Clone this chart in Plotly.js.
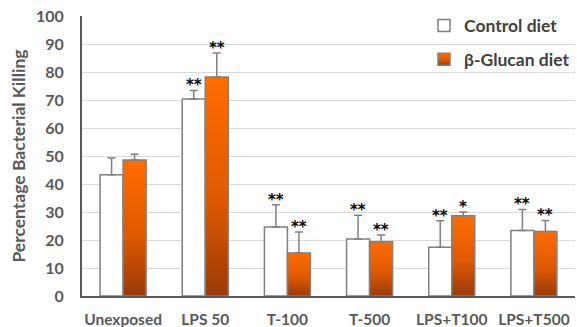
<!DOCTYPE html>
<html><head><meta charset="utf-8">
<script src="https://cdn.plot.ly/plotly-3.0.1.min.js"></script>
<style>body{margin:0;background:#fff}#chart{width:577px;height:327px}</style>
</head><body><div id="chart"></div>
<script>
const categories = ["Unexposed","LPS 50","T-100","T-500","LPS+T100","LPS+T500"];
const controlValues = [43.3, 70.4, 24.6, 20.4, 17.4, 23.4];
const controlErrors = [6.0, 3.0, 8.0, 8.4, 9.5, 7.5];
const glucanValues = [48.6, 78.2, 15.4, 19.4, 28.7, 23.0];
const glucanErrors = [2.0, 8.6, 7.5, 2.4, 1.3, 4.0];
const controlStars = ["", "**", "**", "**", "**", "**"];
const glucanStars = ["", "**", "**", "**", "*", "**"];
const yTicks = [0,10,20,30,40,50,60,70,80,90,100];

const W = 577, H = 327;
const margin = {l: 82, r: 2, t: 16, b: 31};
const bargap = 0.44;
const FONT = "Lato, 'Open Sans', sans-serif";
const STARFONT = "'DejaVu Sans', sans-serif";
const grey = "#595959";

const traces = [
  {type:"bar", name:"Control diet", x:categories, y:controlValues, legendgroup:"a",
   marker:{color:"#ffffff", line:{color:"#808080", width:1.5}},
   error_y:{type:"data", array:controlErrors, arrayminus:controlErrors.map(()=>0), symmetric:false, color:"#808080", thickness:1.5, width:4}},
  {type:"bar", name:"\u03b2-Glucan diet", x:categories, y:glucanValues, legendgroup:"b",
   marker:{color:"#e25f00", line:{color:"#808080", width:1.5}},
   error_y:{type:"data", array:glucanErrors, arrayminus:glucanErrors.map(()=>0), symmetric:false, color:"#808080", thickness:1.5, width:4}}
];

const plotW = W - margin.l - margin.r;
const catW = plotW / categories.length;
const shift = (1 - bargap) * catW / 4;
const annotations = [];
const starFont = {family:STARFONT, size:15, color:"#000", weight:"bold"};
categories.forEach((c, i) => {
  if (controlStars[i]) annotations.push({x:c, y:controlValues[i]+controlErrors[i], text:controlStars[i], showarrow:false, xshift:-shift, yanchor:"bottom", yshift:-6, font:starFont});
  if (glucanStars[i]) annotations.push({x:c, y:glucanValues[i]+glucanErrors[i], text:glucanStars[i], showarrow:false, xshift:shift, yanchor:"bottom", yshift:-6, font:starFont});
});

const layout = {
  width:W, height:H, margin:margin, paper_bgcolor:"#fff", plot_bgcolor:"#fff",
  barmode:"group", bargap:bargap, bargroupgap:0,
  font:{family:FONT, color:grey},
  xaxis:{type:"category", showline:true, linecolor:"#595959", linewidth:2, ticks:"", ticklabelstandoff:8,
    tickfont:{family:FONT, size:15.5, color:grey, weight:"bold"}},
  yaxis:{range:[0,100], tickvals:yTicks, showline:true, linecolor:"#595959", linewidth:2,
    gridcolor:"#d9d9d9", gridwidth:1, zeroline:false, ticks:"", ticklabelstandoff:13,
    tickfont:{family:FONT, size:16, color:grey, weight:"bold"},
    title:{text:"Percentage Bacterial Killing", standoff:6, font:{family:FONT, size:17.5, color:grey, weight:"bold"}}},
  legend:{x:1, xanchor:"right", y:1.03, yanchor:"top", bgcolor:"rgba(0,0,0,0)", traceorder:"grouped", tracegroupgap:8, itemwidth:30,
    font:{family:FONT, size:17.5, color:"#404040", weight:"bold"}},
  annotations:annotations
};

Plotly.newPlot("chart", traces, layout, {displayModeBar:false, staticPlot:true}).then(gd => {
  const svg = gd.querySelector(".main-svg");
  const ns = "http://www.w3.org/2000/svg";
  let defs = svg.querySelector("defs");
  if (!defs) { defs = document.createElementNS(ns, "defs"); svg.insertBefore(defs, svg.firstChild); }
  const g = document.createElementNS(ns, "linearGradient");
  g.setAttribute("id", "orangeGrad"); g.setAttribute("x1","0"); g.setAttribute("y1","0"); g.setAttribute("x2","0"); g.setAttribute("y2","1");
  [["0%","#ff6c00"],["55%","#e05a00"],["100%","#9a3a08"]].forEach(([o,c]) => {
    const s = document.createElementNS(ns, "stop"); s.setAttribute("offset", o); s.setAttribute("stop-color", c); g.appendChild(s);
  });
  defs.appendChild(g);
  const bars = gd.querySelectorAll(".barlayer .trace");
  if (bars[1]) bars[1].querySelectorAll(".point path").forEach(p => { p.style.fill = "url(#orangeGrad)"; });
  const leg = gd.querySelectorAll(".legend .traces");
  if (leg[1]) leg[1].querySelectorAll(".legendpoints path").forEach(p => { p.style.fill = "url(#orangeGrad)"; });
});
</script></body></html>
